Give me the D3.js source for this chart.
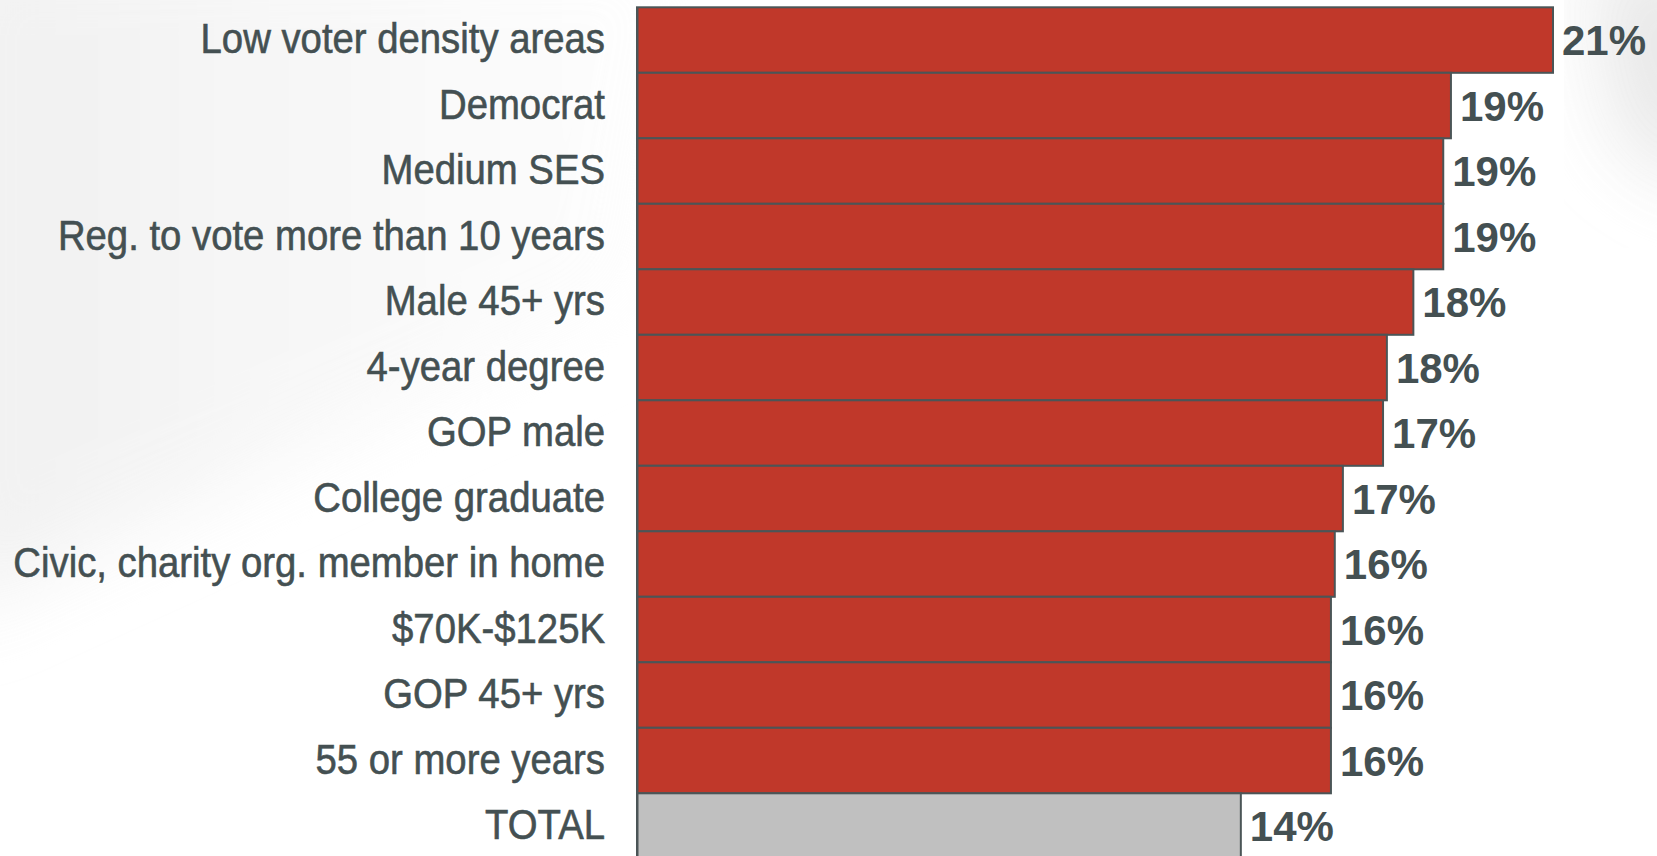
<!DOCTYPE html>
<html>
<head>
<meta charset="utf-8">
<script src="https://cdn.jsdelivr.net/npm/d3@7"></script>
<style>
  html, body { margin: 0; padding: 0; background: #ffffff; overflow: hidden; }
  svg { display: block; }
</style>
</head>
<body>
<svg id="chart" width="1657" height="856"></svg>
<script>
// ---- data ----
const categories = [
  "Low voter density areas",
  "Democrat",
  "Medium SES",
  "Reg. to vote more than 10 years",
  "Male 45+ yrs",
  "4-year degree",
  "GOP male",
  "College graduate",
  "Civic, charity org. member in home",
  "$70K-$125K",
  "GOP 45+ yrs",
  "55 or more years",
  "TOTAL"
];
const values = [21.45, 19.06, 18.88, 18.88, 18.18, 17.56, 17.47, 16.53, 16.34, 16.25, 16.25, 16.25, 14.14];
const valueLabels = ["21%", "19%", "19%", "19%", "18%", "18%", "17%", "17%", "16%", "16%", "16%", "16%", "14%"];
const highlight = ["TOTAL"];

// ---- layout ----
const W = 1657, H = 856;
const svg = d3.select("#chart");

// subtle background watermark
const defs = svg.append("defs");
defs.append("filter").attr("id", "soft").attr("x", "-20%").attr("y", "-20%").attr("width", "140%").attr("height", "140%")
  .append("feGaussianBlur").attr("stdDeviation", 40);
const g1 = defs.append("linearGradient").attr("id", "bgL").attr("x1", "0").attr("y1", "0").attr("x2", "1").attr("y2", "0");
g1.append("stop").attr("offset", "0").attr("stop-color", "#ededed");
g1.append("stop").attr("offset", "1").attr("stop-color", "#ffffff");

svg.append("rect").attr("width", W).attr("height", H).attr("fill", "#ffffff");
svg.append("path")
  .attr("d", "M-60,-60 L700,-60 L640,300 L-60,620 Z")
  .attr("fill", "url(#bgL)").attr("filter", "url(#soft)").attr("opacity", 0.8);
svg.append("path")
  .attr("d", "M1590,-40 L1720,-40 L1720,200 L1620,140 Z")
  .attr("fill", "#e4e4e4").attr("filter", "url(#soft)").attr("opacity", 0.9);

const x = d3.scaleLinear().domain([0, values[0]]).range([637, 1553]);
const y = d3.scaleBand().domain(categories).range([7.3, 7.3 + 65.5 * categories.length]).padding(0);

const textColor = "#445052";
const strokeColor = "#4b5557";

// bars
svg.append("g").selectAll("rect")
  .data(categories)
  .join("rect")
  .attr("x", x(0))
  .attr("y", d => y(d))
  .attr("width", (d, i) => x(values[i]) - x(0))
  .attr("height", y.bandwidth())
  .attr("fill", d => highlight.includes(d) ? "#c0c0c0" : "#c0382a")
  .attr("stroke", strokeColor)
  .attr("stroke-width", 2);

// category axis
const axis = svg.append("g")
  .attr("transform", `translate(${x(0)},0)`)
  .call(d3.axisLeft(y).tickSize(0).tickSizeOuter(0).tickPadding(0));
axis.select(".domain").attr("stroke", strokeColor).attr("stroke-width", 2);
axis.selectAll(".tick text")
  .attr("x", 0)
  .attr("transform", "translate(-32,0) scale(0.912,1)")
  .attr("dy", "0.31em")
  .attr("fill", textColor)
  .attr("stroke", textColor)
  .attr("stroke-width", 0.6)
  .style("font-family", "'Liberation Sans', Arial, sans-serif")
  .style("font-size", "42px");

// value labels
svg.append("g").selectAll("text")
  .data(categories)
  .join("text")
  .attr("x", (d, i) => x(values[i]) + 9)
  .attr("y", d => y(d) + y.bandwidth() / 2)
  .attr("dy", "0.36em")
  .attr("fill", textColor)
  .style("font-family", "'Liberation Sans', Arial, sans-serif")
  .style("font-weight", "bold")
  .style("font-size", "42px")
  .text((d, i) => valueLabels[i]);
</script>
</body>
</html>
